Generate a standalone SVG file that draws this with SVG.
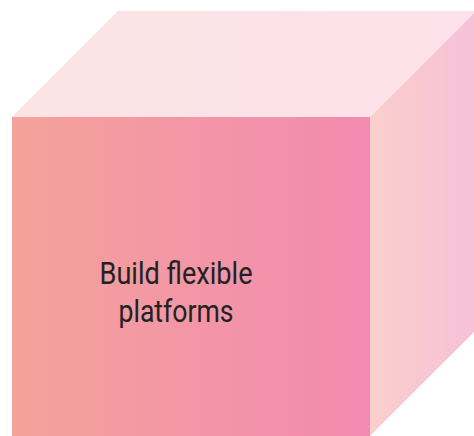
<svg xmlns="http://www.w3.org/2000/svg" width="474" height="436" viewBox="0 0 474 436">
<defs>
<linearGradient id="gFront" x1="0" y1="0" x2="1" y2="0"><stop offset="0" stop-color="#F4A29A"/><stop offset="1" stop-color="#F28AB1"/></linearGradient>
<linearGradient id="gTop" x1="0" y1="0" x2="1" y2="0"><stop offset="0" stop-color="#FBE3E3"/><stop offset="1" stop-color="#FDE2EB"/></linearGradient>
<linearGradient id="gRight" x1="0" y1="0" x2="1" y2="0"><stop offset="0" stop-color="#F9CFCC"/><stop offset="1" stop-color="#F7C0D8"/></linearGradient>
<style>.lbl{font-family:Roboto,"Liberation Sans",sans-serif;font-size:32px;fill:#222;text-anchor:middle}</style>
</defs>
<g id="cube">
<polygon id="top" points="12,117 118,11 476,11 370,117" fill="url(#gTop)"/>
<polygon id="right" points="370,117 476,11 476,330 370,436" fill="url(#gRight)"/>
<rect id="front" x="12" y="117" width="358" height="319" fill="url(#gFront)"/>
</g>
<g id="label">
<text class="lbl" x="176" y="284" textLength="153" lengthAdjust="spacingAndGlyphs">Build flexible</text>
<text class="lbl" x="176" y="322" textLength="115" lengthAdjust="spacingAndGlyphs">platforms</text>
</g>
</svg>
